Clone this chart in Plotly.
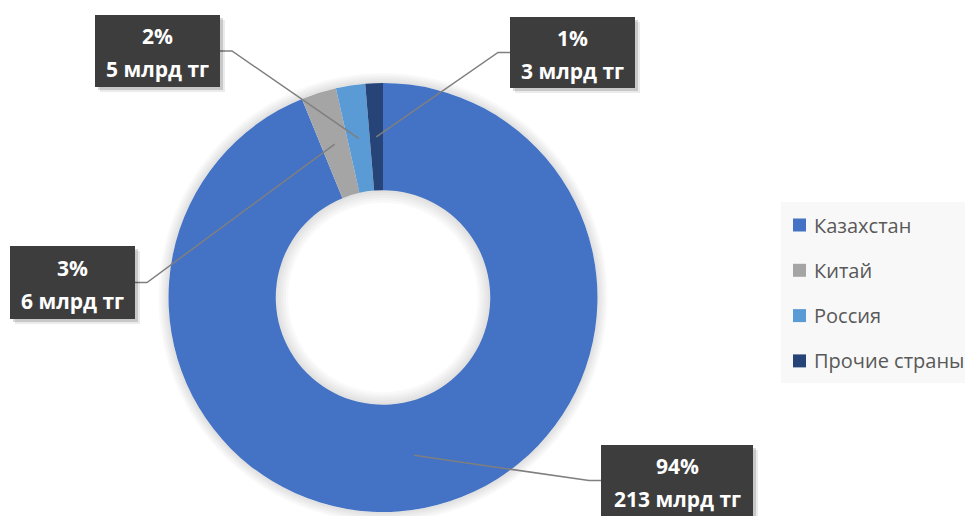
import numpy as np
import plotly.graph_objects as go

countries = ["Казахстан", "Китай", "Россия", "Прочие страны"]
values_bn = [213, 6, 5, 3]
colors = ["#4472C4", "#A5A5A5", "#5B9BD5", "#264478"]

# label boxes (page pixels): x0, y0, x1, y1, side of leader, elbow x
label_boxes = [
    (601, 445, 753, 520, "left", 589),
    (10, 246, 135, 319, "right", 147),
    (95, 15, 220, 87, "right", 232),
    (510, 17, 635, 88, "left", 498),
]

# the html page has an 8px body margin, so the figure starts at (8, 8)
OFF = 8
W, H = 973 - OFF, 516 - OFF
cx, cy, R = 383, 297.5, 214.5
HOLE = 0.5


def px(x):
    return (x - OFF) / W


def py(y):
    return 1 - (y - OFF) / H


def disc(r, **kw):
    return dict(type="circle", xref="paper", yref="paper",
                x0=px(cx - r), x1=px(cx + r), y0=py(cy + r), y1=py(cy - r), layer="below", **kw)


fig = go.Figure(go.Pie(
    labels=countries, values=values_bn, hole=HOLE, sort=False,
    direction="clockwise", rotation=0,
    marker=dict(colors=colors, line=dict(width=0)),
    textinfo="none", showlegend=False,
    domain=dict(x=[px(cx - R), px(cx + R)], y=[py(cy + R), py(cy - R)]),
))

shapes = []
# soft glow round the ring
for k in range(1, 6):
    shapes.append(disc(R + 2 * k, fillcolor="rgba(0,0,0,0.022)", line=dict(width=0)))
shapes.append(disc(R, fillcolor="white", line=dict(width=0)))
# inner shadow in the hole
for k in range(1, 6):
    shapes.append(disc(R * HOLE, line=dict(color="rgba(0,0,0,0.022)", width=5 * k)))

total = sum(values_bn)
cum = np.cumsum([0] + values_bn)
annotations = []
for i, v in enumerate(values_bn):
    mid = (cum[i] + v / 2) / total * 2 * np.pi
    ex, ey = cx + 0.75 * R * np.sin(mid), cy - 0.75 * R * np.cos(mid)
    x0, y0, x1, y1, side, elbow = label_boxes[i]
    bx = x0 if side == "left" else x1
    ly = (y0 + min(y1, 516)) / 2
    shapes.append(dict(type="path", xref="paper", yref="paper",
                       path=f"M{px(ex)},{py(ey)} L{px(elbow)},{py(ly)} L{px(bx)},{py(ly)}",
                       line=dict(color="#7f7f7f", width=1.5), layer="above"))
    for off, a in [(5, 0.08), (3, 0.15)]:
        shapes.append(dict(type="rect", xref="paper", yref="paper",
                           x0=px(x0 + off), x1=px(x1 + off), y0=py(y0 + off), y1=py(y1 + off),
                           fillcolor=f"rgba(0,0,0,{a})", line=dict(width=0), layer="above"))
    shapes.append(dict(type="rect", xref="paper", yref="paper",
                       x0=px(x0), x1=px(x1), y0=py(y0), y1=py(y1),
                       fillcolor="#3d3d3d", line=dict(width=0), layer="above"))
    tcx = (x0 + x1) / 2
    tcy = (y0 + min(y1, 516)) / 2 + 1
    pct = round(v / total * 100)
    for txt, dy in [(f"{pct}%", -16), (f"{v} млрд тг", 17)]:
        annotations.append(dict(x=px(tcx), y=py(tcy + dy), xref="paper", yref="paper",
                                text=txt, showarrow=False, xanchor="center", yanchor="middle",
                                font=dict(family="Open Sans", size=21, color="white", weight="bold")))

# legend
shapes.append(dict(type="rect", xref="paper", yref="paper", x0=px(781), x1=px(975),
                   y0=py(202), y1=py(383), fillcolor="#f8f8f8", line=dict(width=0), layer="below"))
for i, name in enumerate(countries):
    yc = 225 + 45.3 * i
    shapes.append(dict(type="rect", xref="paper", yref="paper", x0=px(793), x1=px(806),
                       y0=py(yc - 6.5), y1=py(yc + 6.5), fillcolor=colors[i], line=dict(width=0)))
    annotations.append(dict(x=px(812), y=py(yc), xref="paper", yref="paper", text=name,
                            showarrow=False, xanchor="left", yanchor="middle",
                            font=dict(family="Open Sans", size=20, color="#595959")))

fig.update_layout(
    width=W, height=H, margin=dict(l=0, r=0, t=0, b=0),
    paper_bgcolor="white", plot_bgcolor="white",
    shapes=shapes, annotations=annotations,
)
fig.write_html("out.html")
